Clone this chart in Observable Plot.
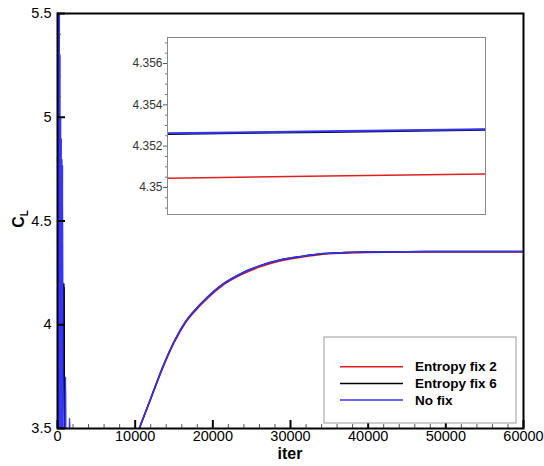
<!DOCTYPE html>
<html>
<head>
<meta charset="utf-8">
<script src="https://cdn.jsdelivr.net/npm/d3@7"></script>
<script src="https://cdn.jsdelivr.net/npm/@observablehq/plot@0.6"></script>
<style>
  body { margin: 0; background: #fff; }
  #wrap { position: relative; width: 544px; height: 466px; }
  #inset { position: absolute; left: 122px; top: 32px; }
</style>
</head>
<body>
<div id="wrap"><div id="main"></div><div id="inset"></div></div>
<script>
// ---- data (iteration, C_L) ----
const seriesNames = ["Entropy fix 2", "Entropy fix 6", "No fix"];
const seriesColors = ["#e02020", "#000000", "#3434ff"];

const entropyFix2 = [
  [0, 5.2], [100, 3.6], [200, 4.8], [300, 3.7], [400, 4.3], [500, 3.45], [1000, 3.4],
  [10000, 3.44], [10580, 3.503], [12000, 3.641], [13720, 3.806], [15000, 3.912], [16500, 4.010],
  [18450, 4.095], [21030, 4.183], [23610, 4.240], [26190, 4.280], [28770, 4.308],
  [31350, 4.325], [33940, 4.339], [37000, 4.345], [40000, 4.3480], [45000, 4.3500],
  [50000, 4.35045], [55000, 4.35055], [60000, 4.35065]
];
const entropyFix6 = [
  [0, 5.6], [60, 3.4], [120, 5.6], [180, 3.4], [240, 5.0], [300, 3.4], [360, 4.6],
  [420, 3.5], [480, 4.4], [540, 3.6], [600, 3.45], [780, 4.2], [800, 3.8], [820, 4.2],
  [840, 3.8], [860, 4.18], [880, 3.45], [1000, 3.4],
  [10000, 3.45], [10580, 3.506], [12000, 3.645], [13720, 3.812], [15000, 3.918], [16500, 4.016],
  [18450, 4.101], [21030, 4.189], [23610, 4.246], [26190, 4.286], [28770, 4.313],
  [31350, 4.329], [33940, 4.342], [37000, 4.348], [40000, 4.3505], [45000, 4.3522],
  [50000, 4.35259], [55000, 4.35269], [60000, 4.35279]
];
const noFix = [
  [0, 5.6], [40, 3.4], [80, 5.6], [120, 3.4], [160, 5.6], [200, 3.4], [240, 5.6],
  [280, 3.4], [320, 5.3], [360, 3.4], [400, 5.0], [440, 3.4], [480, 4.9], [520, 3.4],
  [560, 4.8], [600, 3.4], [640, 4.77], [700, 3.45], [760, 3.5], [820, 3.45],
  [960, 3.45], [1030, 3.75], [1080, 3.45], [1500, 3.45], [1550, 3.55], [1600, 3.45],
  [10000, 3.45], [10580, 3.506], [12000, 3.645], [13720, 3.812], [15000, 3.918], [16500, 4.016],
  [18450, 4.101], [21030, 4.189], [23610, 4.246], [26190, 4.286], [28770, 4.313],
  [31350, 4.329], [33940, 4.342], [37000, 4.348], [40000, 4.3505], [45000, 4.3523],
  [50000, 4.35262], [55000, 4.35272], [60000, 4.35282]
];
const seriesData = [entropyFix2, entropyFix6, noFix];

const xMajorTicks = [0, 10000, 20000, 30000, 40000, 50000, 60000];
const xMinorTicks = d3.range(0, 60001, 2000).filter(v => v % 10000 !== 0);
const yMajorTicks = [3.5, 4, 4.5, 5, 5.5];
const yMinorTicks = d3.range(36, 55).map(v => v / 10).filter(v => Math.abs(v * 2 - Math.round(v * 2)) > 1e-9);

const insetXDomain = [50000, 60000];
const insetYDomain = [4.34869, 4.35726];
const insetYMajor = [4.35, 4.352, 4.354, 4.356];
const insetYMinor = d3.range(8697, 8715).map(v => v / 2000)
  .filter(v => v > insetYDomain[0] && v < insetYDomain[1])
  .filter(v => !insetYMajor.some(t => Math.abs(t - v) < 1e-9));

const font = "'Liberation Sans', Arial, sans-serif";

// ---- main plot ----
const main = Plot.plot({
  width: 544, height: 466,
  marginLeft: 57, marginRight: 21, marginTop: 13, marginBottom: 38,
  style: { fontFamily: font, fontSize: "14px", color: "#000", background: "#fff" },
  x: { domain: [0, 60000], label: null },
  y: { domain: [3.5, 5.5], label: null },
  marks: [
    ...seriesData.map((d, i) => Plot.line(d, { x: d => d[0], y: d => d[1], stroke: seriesColors[i], strokeWidth: 1.5, curve: "monotone-x", clip: true })),
    Plot.axisX({ ticks: xMinorTicks, tickSize: -4, strokeWidth: 1, stroke: "#555", tickFormat: () => "" }),
    Plot.axisX({ ticks: xMajorTicks, tickSize: -8, strokeWidth: 2, tickFormat: () => "" }),
    Plot.axisX({ ticks: xMajorTicks, tickSize: 0, tickPadding: 2, tickFormat: d => String(d), fill: "#000", fontSize: 14.5, fontFamily: font }),
    Plot.axisY({ ticks: yMinorTicks, tickSize: -4, strokeWidth: 1, stroke: "#555", tickFormat: () => "" }),
    Plot.axisY({ ticks: yMajorTicks, tickSize: -8, strokeWidth: 2, tickFormat: () => "" }),
    Plot.axisY({ ticks: yMajorTicks, tickSize: 0, tickPadding: 6, tickFormat: d => String(d), fill: "#000", fontSize: 14.5, fontFamily: font }),
    Plot.frame({ stroke: "#000", strokeWidth: 2 })
  ]
});
document.getElementById("main").appendChild(main);

const svg = d3.select(main);
// axis titles
svg.append("text")
  .attr("x", 290).attr("y", 459)
  .attr("text-anchor", "middle")
  .style("font", `bold 16px ${font}`)
  .text("iter");
const yl = svg.append("text")
  .attr("transform", "translate(24,219) rotate(-90)")
  .attr("text-anchor", "middle")
  .style("font", `bold 16px ${font}`);
yl.append("tspan").text("C");
yl.append("tspan").attr("dy", 4).style("font-size", "10px").text("L");

// legend
const lg = svg.append("g").attr("text-anchor", "start");
lg.append("rect").attr("x", 324).attr("y", 337).attr("width", 192).attr("height", 86)
  .attr("fill", "#fff").attr("stroke", "#999").attr("stroke-width", 1);
seriesNames.forEach((name, i) => {
  const yy = 366.7 + i * 16.7;
  lg.append("line").attr("x1", 340).attr("x2", 403).attr("y1", yy).attr("y2", yy)
    .attr("stroke", seriesColors[i]).attr("stroke-width", 1.5);
  lg.append("text").attr("x", 415).attr("y", yy).attr("dy", "0.35em")
    .attr("text-anchor", "start")
    .style("font", `bold 13.5px ${font}`).attr("fill", "#000").text(name);
});

// ---- inset ----
const inset = Plot.plot({
  width: 368, height: 187,
  marginLeft: 45, marginRight: 5, marginTop: 5, marginBottom: 5,
  style: { fontFamily: font, fontSize: "12px", color: "#333", background: "#fff" },
  x: { domain: insetXDomain, axis: null },
  y: { domain: insetYDomain, label: null },
  marks: [
    ...seriesData.map((d, i) => Plot.line(d.filter(p => p[0] >= insetXDomain[0]), { x: d => d[0], y: d => d[1], stroke: seriesColors[i], strokeWidth: i === 0 ? 1.5 : 2, clip: true })),
    Plot.axisY({ ticks: insetYMinor, tickSize: 2, stroke: "#777", tickFormat: () => "" }),
    Plot.axisY({ ticks: insetYMajor, tickSize: 4, stroke: "#555", tickPadding: 1, tickFormat: d => String(d), fill: "#333" }),
    Plot.frame({ stroke: "#888", strokeWidth: 1 })
  ]
});
document.getElementById("inset").appendChild(inset);
</script>
</body>
</html>
